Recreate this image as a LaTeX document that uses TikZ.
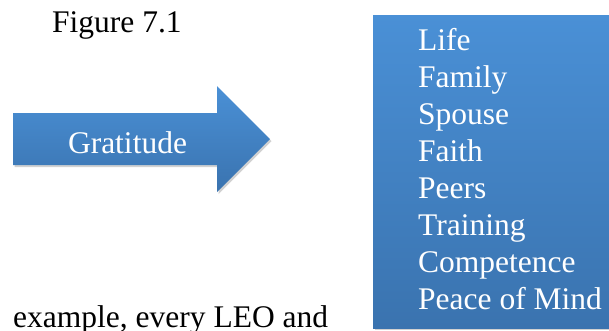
\documentclass[tikz,border=0pt]{standalone}
\usepackage{fontspec}
\setmainfont{Liberation Serif}
\usetikzlibrary{shadows}
\definecolor{ctop}{HTML}{4A90D6}
\definecolor{cbottom}{HTML}{3A73AF}
\definecolor{cshadow}{HTML}{8C8C8C}
\tikzset{
  every picture/.style={x=1pt, y=-1pt},
  body/.style={font=\fontsize{31.5}{37}\selectfont, inner sep=0pt},
  panel/.style={top color=ctop, bottom color=cbottom, draw=none,
    drop shadow={shadow xshift=1.5pt, shadow yshift=-2pt, opacity=0.4, fill=cshadow}},
  wtext/.style={body, text=white},
}
\begin{document}
\begin{tikzpicture}
  \clip (0,0) rectangle (609,330);
  \node[body, anchor=base west] (figlabel) at (52,32) {Figure 7.1};
  % arrow
  \path[panel] (13,113) -- (217,113) -- (217,86) -- (270,139) -- (217,192) -- (217,165) -- (13,165) -- cycle;
  \node[wtext, anchor=base] (gratitude) at (127.5,153) {Gratitude};
  % list box
  \path[panel] (373,15) rectangle (630,328);
  \foreach \entry [count=\k from 0] in {Life, Family, Spouse, Faith, Peers, Training, Competence, Peace of Mind}
    \node[wtext, anchor=base west] (entry\k) at (418, 50+37.14*\k) {\entry};
  \node[body, anchor=base west] (bodytext) at (13,327) {example, every LEO and};
\end{tikzpicture}
\end{document}
